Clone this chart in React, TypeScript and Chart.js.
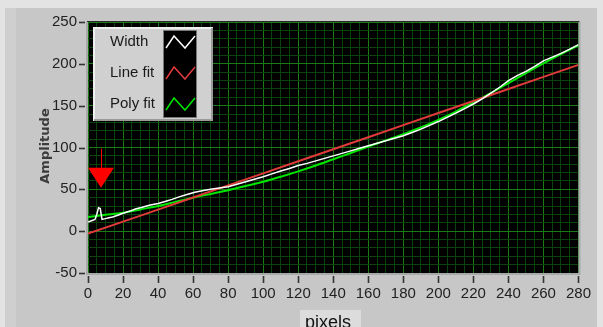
import React, { useEffect, useRef } from "react";
import { Chart, registerables } from "chart.js";

Chart.register(...registerables);

// ---- data ----
const widthX = [0, 2, 4, 5, 6, 7, 8, 10, 12, 14, 17, 20, 24, 27, 31, 35, 40, 44, 48, 52, 56, 61, 66, 70, 75, 80, 85, 90, 95, 100, 105, 110, 115, 120, 125, 130, 135, 140, 145, 150, 155, 160, 165, 170, 175, 180, 185, 190, 195, 200, 205, 210, 215, 220, 225, 230, 235, 240, 245, 250, 255, 260, 265, 270, 275, 280];
const widthY = [11, 12.5, 14, 20, 28, 27, 14, 15, 16, 17, 19, 21.5, 24, 26.5, 28.5, 31, 33, 35.5, 38, 41, 43.5, 46.5, 48.5, 50, 51.5, 53, 56, 59, 62, 65, 68.5, 72, 75, 78.5, 81, 84, 87, 90, 93, 96, 99, 102, 105, 108, 111, 114, 118, 122, 126.5, 131, 136, 141, 146.5, 152, 158, 165, 172, 180, 186, 191, 197, 203.5, 208, 212.5, 217.5, 223];

const lineFitX = [0, 20, 40, 60, 80, 100, 120, 140, 160, 180, 200, 220, 240, 260, 280];
const lineFitY = [-3, 11.4, 25.8, 40.3, 54.7, 69.1, 83.5, 97.9, 112.3, 126.8, 141.2, 155.6, 170, 184.4, 198.8];

const polyFitX = [0, 10, 20, 30, 40, 50, 60, 70, 80, 90, 100, 110, 120, 130, 140, 150, 160, 170, 180, 190, 200, 210, 220, 230, 240, 250, 260, 270, 280];
const polyFitY = [17, 19.5, 22, 26, 30, 35, 40, 44.5, 49, 54, 59, 65, 71.5, 78.5, 86, 93.5, 101, 108.5, 116, 124, 133, 143, 154, 165, 177, 189, 200.5, 211.5, 222];

const seriesLabels = ["Width", "Line fit", "Poly fit"];
const seriesColors = ["#ffffff", "#e03a3a", "#00e600"];

const xMajorTicks = [0, 20, 40, 60, 80, 100, 120, 140, 160, 180, 200, 220, 240, 260, 280];
const yMajorTicks = [-50, 0, 50, 100, 150, 200, 250];

const cursorX = 7.4;
const cursorY = 52;

const xTitle = "pixels";
const yTitle = "Amplitude";

const TICK_FONT = '"Liberation Sans Narrow", "Liberation Sans", Arial, sans-serif';

function pts(xs: number[], ys: number[]) {
  return xs.map((x, i) => ({ x, y: ys[i] }));
}

const decorPlugin = {
  id: "decor",
  beforeDraw(chart: any) {
    const { ctx, chartArea: a, width, height } = chart;
    ctx.save();
    ctx.fillStyle = "#e3e3e3";
    ctx.fillRect(0, 0, width, height);
    ctx.fillStyle = "#c7c7c7";
    ctx.fillRect(5, 8, 592, height - 8);
    ctx.fillStyle = "#cfcfcf";
    ctx.fillRect(5, 8, 11, height - 8);
    ctx.fillStyle = "#000000";
    ctx.fillRect(a.left, a.top, a.right - a.left, a.bottom - a.top);
    ctx.restore();
  },
  afterDraw(chart: any) {
    const { ctx, chartArea: a } = chart;
    const xs = chart.scales.x;
    const ys = chart.scales.y;
    ctx.save();
    // frame
    ctx.strokeStyle = "#a9a9a9";
    ctx.lineWidth = 2;
    ctx.beginPath();
    ctx.moveTo(a.left - 1, a.top);
    ctx.lineTo(a.left - 1, a.bottom + 1);
    ctx.lineTo(a.right + 1, a.bottom + 1);
    ctx.lineTo(a.right + 1, a.top);
    ctx.stroke();
    ctx.strokeStyle = "#2a2a2a";
    ctx.lineWidth = 1;
    ctx.beginPath();
    ctx.moveTo(a.left - 1, a.top - 0.5);
    ctx.lineTo(a.right + 1, a.top - 0.5);
    ctx.stroke();
    // tick marks
    ctx.strokeStyle = "#333";
    ctx.lineWidth = 1.6;
    yMajorTicks.forEach((v) => {
      const y = Math.round(ys.getPixelForValue(v)) + 0.5;
      ctx.beginPath();
      ctx.moveTo(a.left - 9, y);
      ctx.lineTo(a.left - 3, y);
      ctx.stroke();
    });
    xMajorTicks.forEach((v) => {
      const x = Math.round(xs.getPixelForValue(v)) + 0.5;
      ctx.beginPath();
      ctx.moveTo(x, a.bottom + 3);
      ctx.lineTo(x, a.bottom + 10);
      ctx.stroke();
    });
    // cursor arrow
    const cx = xs.getPixelForValue(cursorX);
    const cy = ys.getPixelForValue(cursorY);
    ctx.fillStyle = "#ff0000";
    ctx.beginPath();
    ctx.moveTo(cx - 13, cy - 20);
    ctx.lineTo(cx + 13, cy - 20);
    ctx.lineTo(cx, cy);
    ctx.closePath();
    ctx.fill();
    ctx.strokeStyle = "#ff0000";
    ctx.lineWidth = 1;
    ctx.beginPath();
    ctx.moveTo(Math.round(cx) + 0.5, cy - 39);
    ctx.lineTo(Math.round(cx) + 0.5, cy - 19);
    ctx.stroke();
    // legend
    const lx = 93, ly = 27, lw = 120, lh = 94;
    ctx.fillStyle = "#d0d0d0";
    ctx.fillRect(lx, ly, lw, lh);
    ctx.strokeStyle = "#efefef";
    ctx.lineWidth = 2;
    ctx.beginPath();
    ctx.moveTo(lx + 1, ly + lh);
    ctx.lineTo(lx + 1, ly + 1);
    ctx.lineTo(lx + lw, ly + 1);
    ctx.stroke();
    ctx.strokeStyle = "#9a9a9a";
    ctx.beginPath();
    ctx.moveTo(lx + lw - 1, ly + 1);
    ctx.lineTo(lx + lw - 1, ly + lh - 1);
    ctx.lineTo(lx + 1, ly + lh - 1);
    ctx.stroke();
    ctx.fillStyle = "#000";
    ctx.fillRect(163, 30, 34, 88);
    ctx.strokeStyle = "#777";
    ctx.lineWidth = 1;
    ctx.strokeRect(163.5, 30.5, 33, 87);
    ctx.font = "15px " + TICK_FONT;
    ctx.textAlign = "left";
    ctx.textBaseline = "middle";
    const rowY = [42, 73, 104];
    chart.data.datasets.forEach((ds: any, i: number) => {
      ctx.fillStyle = "#1a1a1a";
      ctx.fillText(ds.label, 110, rowY[i]);
      ctx.strokeStyle = ds.borderColor;
      ctx.lineWidth = 1.5;
      const yc = rowY[i];
      ctx.beginPath();
      ctx.moveTo(166, yc + 6);
      ctx.lineTo(174, yc - 6);
      ctx.lineTo(185, yc + 6);
      ctx.lineTo(195, yc - 6);
      ctx.stroke();
    });
    // axis titles
    ctx.fillStyle = "#dcdcdc";
    ctx.fillRect(300, 310, 61, 17);
    ctx.fillStyle = "#111";
    ctx.font = '18px "Liberation Sans", Arial, sans-serif';
    ctx.textAlign = "left";
    ctx.textBaseline = "alphabetic";
    ctx.fillText(xTitle, 305, 328);
    ctx.save();
    ctx.translate(46, 146);
    ctx.rotate(-Math.PI / 2);
    ctx.fillStyle = "#3c3c3c";
    ctx.font = 'bold 13px "DejaVu Sans", sans-serif';
    ctx.textAlign = "center";
    ctx.textBaseline = "middle";
    ctx.fillText(yTitle, 0, 0);
    ctx.restore();
    ctx.restore();
  },
};

export default function App() {
  const ref = useRef<HTMLCanvasElement | null>(null);
  useEffect(() => {
    if (!ref.current) return;
    const chart = new Chart(ref.current, {
      type: "line",
      data: {
        datasets: [
          { label: seriesLabels[0], data: pts(widthX, widthY), borderColor: seriesColors[0], borderWidth: 1.5, pointRadius: 0, tension: 0, order: 0 },
          { label: seriesLabels[1], data: pts(lineFitX, lineFitY), borderColor: seriesColors[1], borderWidth: 2, pointRadius: 0, tension: 0, order: 1 },
          { label: seriesLabels[2], data: pts(polyFitX, polyFitY), borderColor: seriesColors[2], borderWidth: 2, pointRadius: 0, tension: 0.3, order: 2 },
        ],
      },
      options: {
        animation: false,
        responsive: false,
        layout: { padding: { top: 22, right: 20, left: 0, bottom: 0 } },
        plugins: { legend: { display: false }, tooltip: { enabled: false } },
        scales: {
          x: {
            type: "linear",
            min: 0,
            max: 280,
            afterFit: (s: any) => { s.height = 54; },
            border: { display: false },
            grid: {
              drawTicks: false,
              lineWidth: 1,
              color: (c: any) => (c.tick && c.tick.value % 20 === 0 ? "#1a7a1a" : "#0a440a"),
            },
            ticks: {
              stepSize: 5,
              autoSkip: false,
              maxRotation: 0,
              padding: 12,
              color: "#222",
              font: { family: TICK_FONT, size: 15 },
              callback: (v: any) => (Number(v) % 20 === 0 ? String(v) : ""),
            },
          },
          y: {
            type: "linear",
            min: -50,
            max: 250,
            afterFit: (s: any) => { s.width = 88; },
            border: { display: false },
            grid: {
              drawTicks: false,
              lineWidth: 1,
              color: (c: any) => (c.tick && c.tick.value % 50 === 0 ? "#1a7a1a" : "#0a440a"),
            },
            ticks: {
              stepSize: 10,
              autoSkip: false,
              padding: 11,
              color: "#222",
              font: { family: TICK_FONT, size: 15 },
              callback: (v: any) => (Number(v) % 50 === 0 ? String(v) : ""),
            },
          },
        },
      },
      plugins: [decorPlugin],
    });
    return () => chart.destroy();
  }, []);
  return (
    <canvas
      ref={ref}
      width={603}
      height={327}
      style={{ position: "fixed", left: 0, top: 0, width: 603, height: 327, display: "block" }}
    />
  );
}
